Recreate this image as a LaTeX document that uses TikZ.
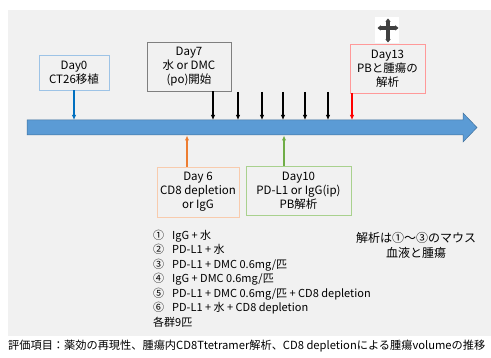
\documentclass[tikz,border=0pt]{standalone}
\usepackage{fontspec}
\setmainfont{Noto Sans CJK JP}
\usetikzlibrary{arrows.meta}
\definecolor{bg}{HTML}{F1F1F1}
\definecolor{barfill}{HTML}{5B9BD5}
\definecolor{baredge}{HTML}{41719C}
\definecolor{cblue}{HTML}{0070C0}
\definecolor{bblue}{HTML}{9DC3E6}
\definecolor{corange}{HTML}{ED7D31}
\definecolor{borange}{HTML}{F8CBAD}
\definecolor{cgreen}{HTML}{70AD47}
\definecolor{bgreen}{HTML}{A9D18E}
\definecolor{cred}{HTML}{FF0000}
\definecolor{bred}{HTML}{FF9999}
\definecolor{bgray}{HTML}{7F7F7F}
\tikzset{
  daybox/.style={draw, line width=0.9pt, fill=bg, align=center, inner sep=0pt,
    font=\fontsize{11.5}{14}\selectfont},
  tick/.style={line width=1.2pt, -{Latex[length=5pt,width=4.5pt]}},
}
\newcommand{\itm}[2]{\makebox[19pt][l]{#1}#2}
\begin{document}
\begin{tikzpicture}[x=1pt,y=-1pt]
\useasboundingbox (0,0) rectangle (491,358);
\fill[white] (0,0) rectangle (491,358);
\fill[bg] (8,10) rectangle (491,336);
% timeline bar
\draw[fill=barfill, draw=baredge, line width=0.5pt] (27,120) -- (463,120) -- (463,113) -- (477,127.5) -- (463,142) -- (463,135) -- (27,135) -- cycle;
% boxes
\node[daybox, draw=bblue, minimum width=70pt, minimum height=35pt] (d0) at (74,72.5) {Day0\\CT26移植};
\node[daybox, draw=bgray, minimum width=84pt, minimum height=49pt] (d7) at (189,66.5) {Day7\\水 or DMC\\(po)開始};
\node[daybox, draw=bred, minimum width=75pt, minimum height=49pt] (d13) at (387.5,68.5) {Day13\\PBと腫瘍の\\解析};
\node[daybox, draw=borange, minimum width=82pt, minimum height=50pt] (d6) at (198,192) {Day 6\\CD8 depletion\\or IgG};
\node[daybox, draw=bgreen, minimum width=105pt, minimum height=49pt] (d10) at (298.5,190.5) {Day10\\PD-L1 or IgG(ip)\\PB解析};
% reference coordinates on the bar
\coordinate (top) at (0,120);
\coordinate (bot) at (0,135.5);
% arrows
\draw[tick, cblue] (d0.south) -- (d0.south |- top);
\draw[tick, black] (d7.south -| 213,0) -- (213,120);
\foreach \x in {238,262,283,305,328}{
  \coordinate (s\x) at (\x,92);
  \draw[tick, black] (s\x) -- (s\x |- top);
}
\draw[tick, cred] (d13.south -| 352,0) -- (352,120);
\draw[tick, corange] (d6.north -| 187,0) -- (187,135.5);
\draw[tick, cgreen] (d10.north -| 284,0) -- (284,135.5);
% cross
\fill[white] (375,17) rectangle (399,43);
\begin{scope}[fill=black!75]
  \fill (386.4,21) rectangle (389.6,40);
  \fill (380,26.4) rectangle (396,29.6);
  \fill (388,18.5) -- (390.5,21.5) -- (388,24) -- (385.5,21.5) -- cycle;
  \fill (388,42.5) -- (390.5,39.5) -- (388,37) -- (385.5,39.5) -- cycle;
  \fill (377.5,28) -- (380.5,25.5) -- (383,28) -- (380.5,30.5) -- cycle;
  \fill (398.5,28) -- (395.5,25.5) -- (393,28) -- (395.5,30.5) -- cycle;
\end{scope}
% list
\node[anchor=north west, align=left, inner sep=0pt, font=\fontsize{11}{14.5}\selectfont] (list) at (153,229.5)
{\itm{①}{IgG + 水}\\\itm{②}{PD-L1 + 水}\\\itm{③}{PD-L1 + DMC 0.6mg/匹}\\\itm{④}{IgG + DMC 0.6mg/匹}\\\itm{⑤}{PD-L1 + DMC 0.6mg/匹 + CD8 depletion}\\\itm{⑥}{PD-L1 + 水 + CD8 depletion}\\各群9匹};
\node[align=center, inner sep=0pt, font=\fontsize{12}{15}\selectfont] (note) at (416,245) {解析は①～③のマウス\\血液と腫瘍};
\node[anchor=west, inner sep=0pt, font=\fontsize{11.2}{13}\selectfont] (eval) at (8,346) {評価項目：薬効の再現性、腫瘍内CD8Ttetramer解析、CD8 depletionによる腫瘍volumeの推移};
\end{tikzpicture}
\end{document}
